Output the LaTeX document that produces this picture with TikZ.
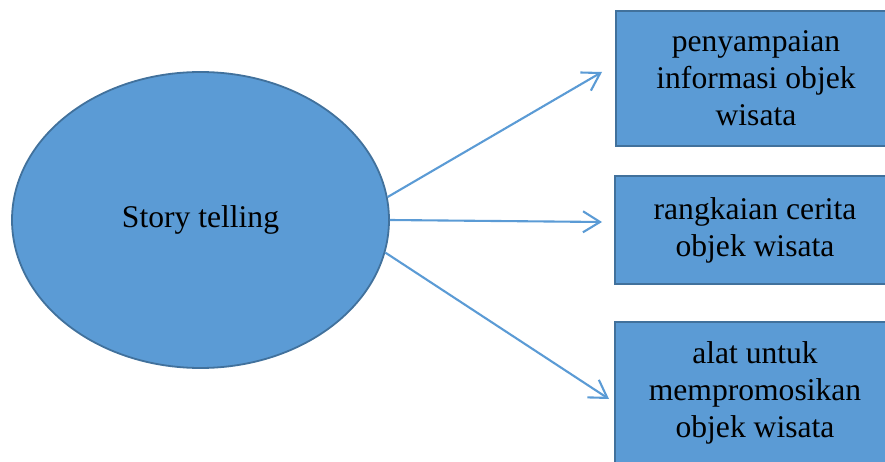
\documentclass[tikz,border=0pt]{standalone}
\usepackage{fontspec}
\setmainfont{Liberation Serif}
\usetikzlibrary{arrows.meta,shapes.geometric}
\definecolor{fillblue}{HTML}{5B9BD5}
\definecolor{edgeblue}{HTML}{41719C}
\tikzset{
  blob/.style={ellipse, draw=edgeblue, fill=fillblue, line width=1.8pt, inner sep=0pt,
    minimum width=377pt, minimum height=296pt, font=\fontsize{31.6}{37}\selectfont},
  infobox/.style={rectangle, draw=edgeblue, fill=fillblue, line width=1.8pt, inner sep=0pt,
    minimum width=280pt, align=center, font=\fontsize{31.6}{37}\selectfont},
  link/.style={draw=fillblue, line width=2.1pt, -{Straight Barb[length=17pt,width=21pt,line width=2.1pt]}}
}
\begin{document}
\begin{tikzpicture}[x=1pt,y=-1pt]
\useasboundingbox (0,0) rectangle (885,462);
\node[blob] (st) at (200.5,220) {Story telling};
\node[infobox, minimum height=135pt] (b1) at (756,78.5) {penyampaian\\informasi objek\\wisata};
\node[infobox, minimum height=108pt] (b2) at (755,230) {rangkaian cerita\\objek wisata};
\node[infobox, minimum height=142pt] (b3) at (755,393) {alat untuk\\mempromosikan\\objek wisata};
\coordinate (t1) at (602,72);
\coordinate (t2) at (602,222);
\coordinate (t3) at (609,399);
\draw[link] (st.7.7) -- (t1);
\draw[link] (st.0) -- (t2);
\draw[link] (st.-10.1) -- (t3);
\end{tikzpicture}
\end{document}
